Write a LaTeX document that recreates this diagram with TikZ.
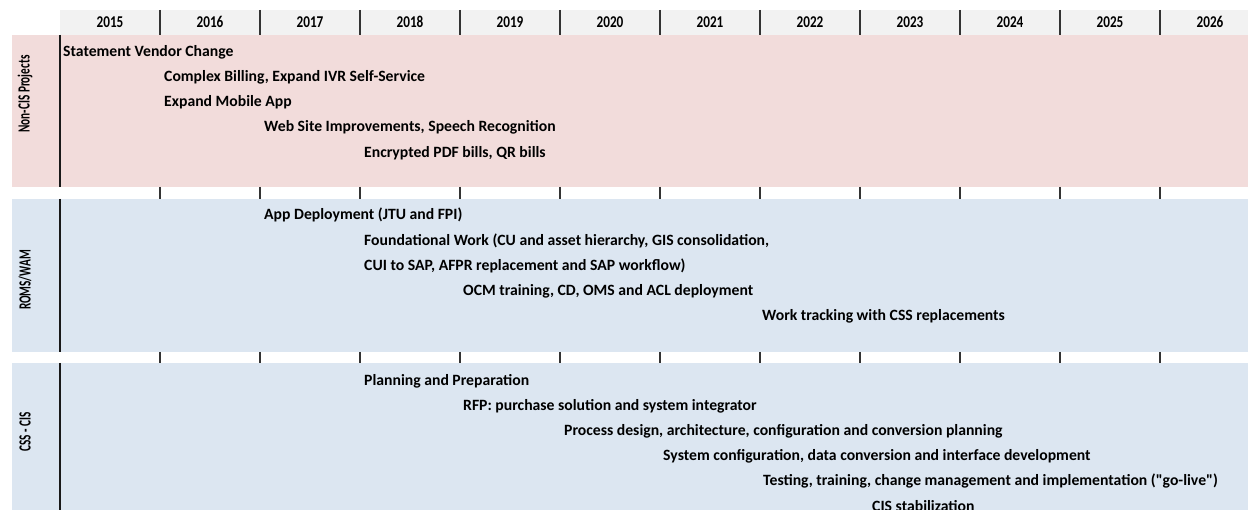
\documentclass[tikz,border=0pt]{standalone}
\usepackage{fontspec}
\setmainfont{Carlito}
\usepackage{xcolor}
\usepackage{tikz}

\definecolor{headgrey}{HTML}{F2F2F2}
\definecolor{noncispink}{HTML}{F2DCDB}
\definecolor{cisblue}{HTML}{DCE6F1}

% narrow, tall lettering of the header and lane titles
\newcommand{\narrowtext}[2]{\scalebox{#1}[1]{#2}}

\tikzset{
  task/.style={anchor=west, inner sep=0pt, font=\bfseries\fontsize{15.7}{18}\selectfont},
  yearlabel/.style={anchor=base, inner sep=0pt, font=\bfseries\fontsize{16.5}{18}\selectfont},
  lanelabel/.style={rotate=90, inner sep=0pt, font=\bfseries\fontsize{17}{19}\selectfont},
  divider/.style={line width=1.8pt, black!80},
  axisline/.style={line width=2pt, black!90},
}

\begin{document}
\begin{tikzpicture}[x=1pt, y=-1pt]
  \useasboundingbox (0,0) rectangle (1248,510);

  % year header
  \fill[headgrey] (60,10) rectangle (1248,35);
  \foreach \yr [count=\i from 0] in {2015,...,2026}
    \node[yearlabel] (y\yr) at (110+100*\i,28) {\narrowtext{0.8}{\yr}};

  % lanes
  \fill[noncispink] (12,35) rectangle (1248,187);
  \fill[cisblue] (12,199) rectangle (1248,352);
  \fill[cisblue] (12,363) rectangle (1248,510);

  \foreach \i in {1,...,11} {
    \draw[divider] (60+100*\i,10) -- (60+100*\i,35);
    \draw[divider] (60+100*\i,187) -- (60+100*\i,199);
    \draw[divider] (60+100*\i,352) -- (60+100*\i,363);
  }
  \draw[axisline] (60,35) -- (60,187);
  \draw[axisline] (60,199) -- (60,352);
  \draw[axisline] (60,363) -- (60,510);

  \node[lanelabel] (noncis) at (25,94) {\narrowtext{0.66}{Non-CIS Projects}};
  \node[lanelabel] (roms) at (25,280) {\narrowtext{0.66}{ROMS/WAM}};
  \node[lanelabel] (csscis) at (25,432) {\narrowtext{0.66}{CSS - CIS}};

  % Non-CIS projects
  \node[task] (vendor) at (63,52) {Statement Vendor Change};
  \node[task] (billing) at (164,77) {Complex Billing, Expand IVR Self-Service};
  \node[task] (mobile) at (164,102) {Expand Mobile App};
  \node[task] (website) at (264,127) {Web Site Improvements, Speech Recognition};
  \node[task] (pdf) at (364,153) {Encrypted PDF bills, QR bills};

  % ROMS/WAM
  \node[task] (appdeploy) at (264,215) {App Deployment (JTU and FPI)};
  \node[task] (found) at (364,241) {Foundational Work (CU and asset hierarchy, GIS consolidation,};
  \node[task] (cui) at (364,266) {CUI to SAP, AFPR replacement and SAP workflow)};
  \node[task] (ocm) at (463,291) {OCM training, CD, OMS and ACL deployment};
  \node[task] (tracking) at (762,316) {Work tracking with CSS replacements};

  % CSS - CIS
  \node[task] (planning) at (364,381) {Planning and Preparation};
  \node[task] (rfp) at (463,406) {RFP: purchase solution and system integrator};
  \node[task] (design) at (564,431) {Process design, architecture, configuration and conversion planning};
  \node[task] (config) at (663,456) {System configuration, data conversion and interface development};
  \node[task] (testing) at (763,481) {Testing, training, change management and implementation (\textquotedbl go-live\textquotedbl)};
  \node[task] (stabil) at (872,506) {CIS stabilization};
\end{tikzpicture}
\end{document}
